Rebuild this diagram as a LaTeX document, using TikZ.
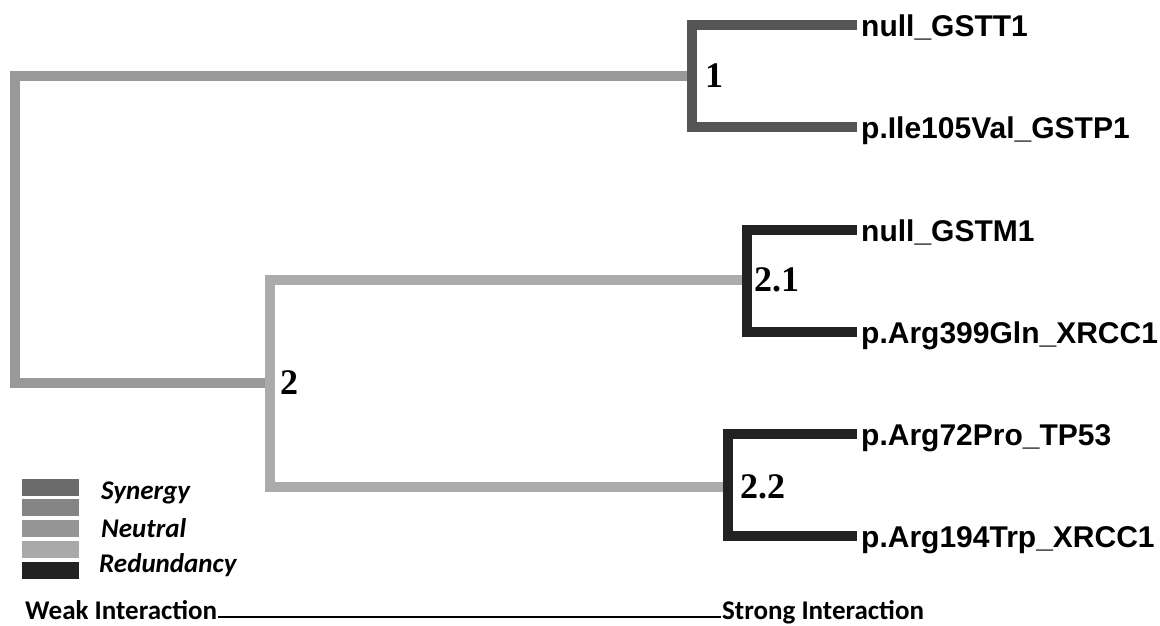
\documentclass[tikz,border=0pt]{standalone}
\usepackage{fontspec}
\setmainfont{Liberation Sans}
\newfontfamily\numfont{Liberation Serif}
\newfontfamily\keyfont{Carlito}
\usetikzlibrary{positioning}

\definecolor{rootgray}{HTML}{999999}
\definecolor{clustgray}{HTML}{ABABAB}
\definecolor{syngray}{HTML}{555555}
\definecolor{reddark}{HTML}{222222}
\definecolor{keysyn}{HTML}{6B6B6B}
\definecolor{keyneuA}{HTML}{858585}
\definecolor{keyneuB}{HTML}{959595}
\definecolor{keyneuC}{HTML}{A9A9A9}

\begin{document}
\begin{tikzpicture}[x=1pt, y=-1pt,
    leaf/.style={anchor=west, inner xsep=4pt, inner ysep=0pt, text height=22pt, text depth=0pt, font=\bfseries\fontsize{30}{32}\selectfont},
    num/.style={inner sep=0pt, font=\numfont\bfseries\fontsize{36}{38}\selectfont},
    branch/.style={line width=10pt},
    swatch/.style={minimum width=57pt, minimum height=17pt, inner sep=0pt},
    key/.style={anchor=west, inner sep=0pt, font=\keyfont\bfseries\itshape\fontsize{27}{29}\selectfont},
    scalelabel/.style={anchor=base west, inner xsep=1pt, inner ysep=0pt, font=\keyfont\bfseries\fontsize{27}{29}\selectfont}]

    \useasboundingbox (0,0) rectangle (1160,625);

    % Draw branch points
    \coordinate (j1) at (692,76);
    \coordinate (root) at (15,230);
    \coordinate (j2) at (270,383);
    \coordinate (j21) at (747,280);
    \coordinate (j22) at (728,487);

    % Draw leaves
    \node (gstt) [leaf] at (857,25) {null\_GSTT1};
    \node (gstp) [leaf] at (857,127) {p.Ile105Val\_GSTP1};
    \node (gstm) [leaf] at (857,230) {null\_GSTM1};
    \node (xrcc399) [leaf] at (857,332) {p.Arg399Gln\_XRCC1};
    \node (tp53) [leaf] at (857,434) {p.Arg72Pro\_TP53};
    \node (xrcc194) [leaf] at (857,536) {p.Arg194Trp\_XRCC1};

    % Draw branches
    \draw[branch, rootgray] (j1) -| (root) |- (j2);
    \draw[branch, clustgray] (j21) -| (j2) |- (j22);
    \draw[branch, syngray] (gstt.west) -| (j1) |- (gstp.west);
    \draw[branch, reddark] (gstm.west) -| (j21) |- (xrcc399.west);
    \draw[branch, reddark] (tp53.west) -| (j22) |- (xrcc194.west);

    % Draw cluster numbers
    \node (n1) [num, right=13pt of j1] {1};
    \node (n2) [num, right=10pt of j2] {2};
    \node (n21) [num, right=7pt of j21] {2.1};
    \node (n22) [num, right=12pt of j22] {2.2};

    % Draw legend
    \node (sw1) [swatch, fill=keysyn] at (50,487) {};
    \node (sw2) [swatch, fill=keyneuA, below=3.5pt of sw1] {};
    \node (sw3) [swatch, fill=keyneuB, below=3.5pt of sw2] {};
    \node (sw4) [swatch, fill=keyneuC, below=3.5pt of sw3] {};
    \node (sw5) [swatch, fill=reddark, below=3.5pt of sw4] {};
    \node (synergy) [key] at (101,493) {Synergy};
    \node (neutral) [key] at (101,528) {Neutral};
    \node (redund) [key] at (99,565) {Redundancy};

    % Draw interaction scale
    \node (weak) [scalelabel] at (24,619) {Weak Interaction};
    \node (strong) [scalelabel] at (721,619) {Strong Interaction};
    \draw[line width=2.5pt] ([yshift=2pt]weak.base east) -- ([yshift=2pt]strong.base west);

\end{tikzpicture}
\end{document}
